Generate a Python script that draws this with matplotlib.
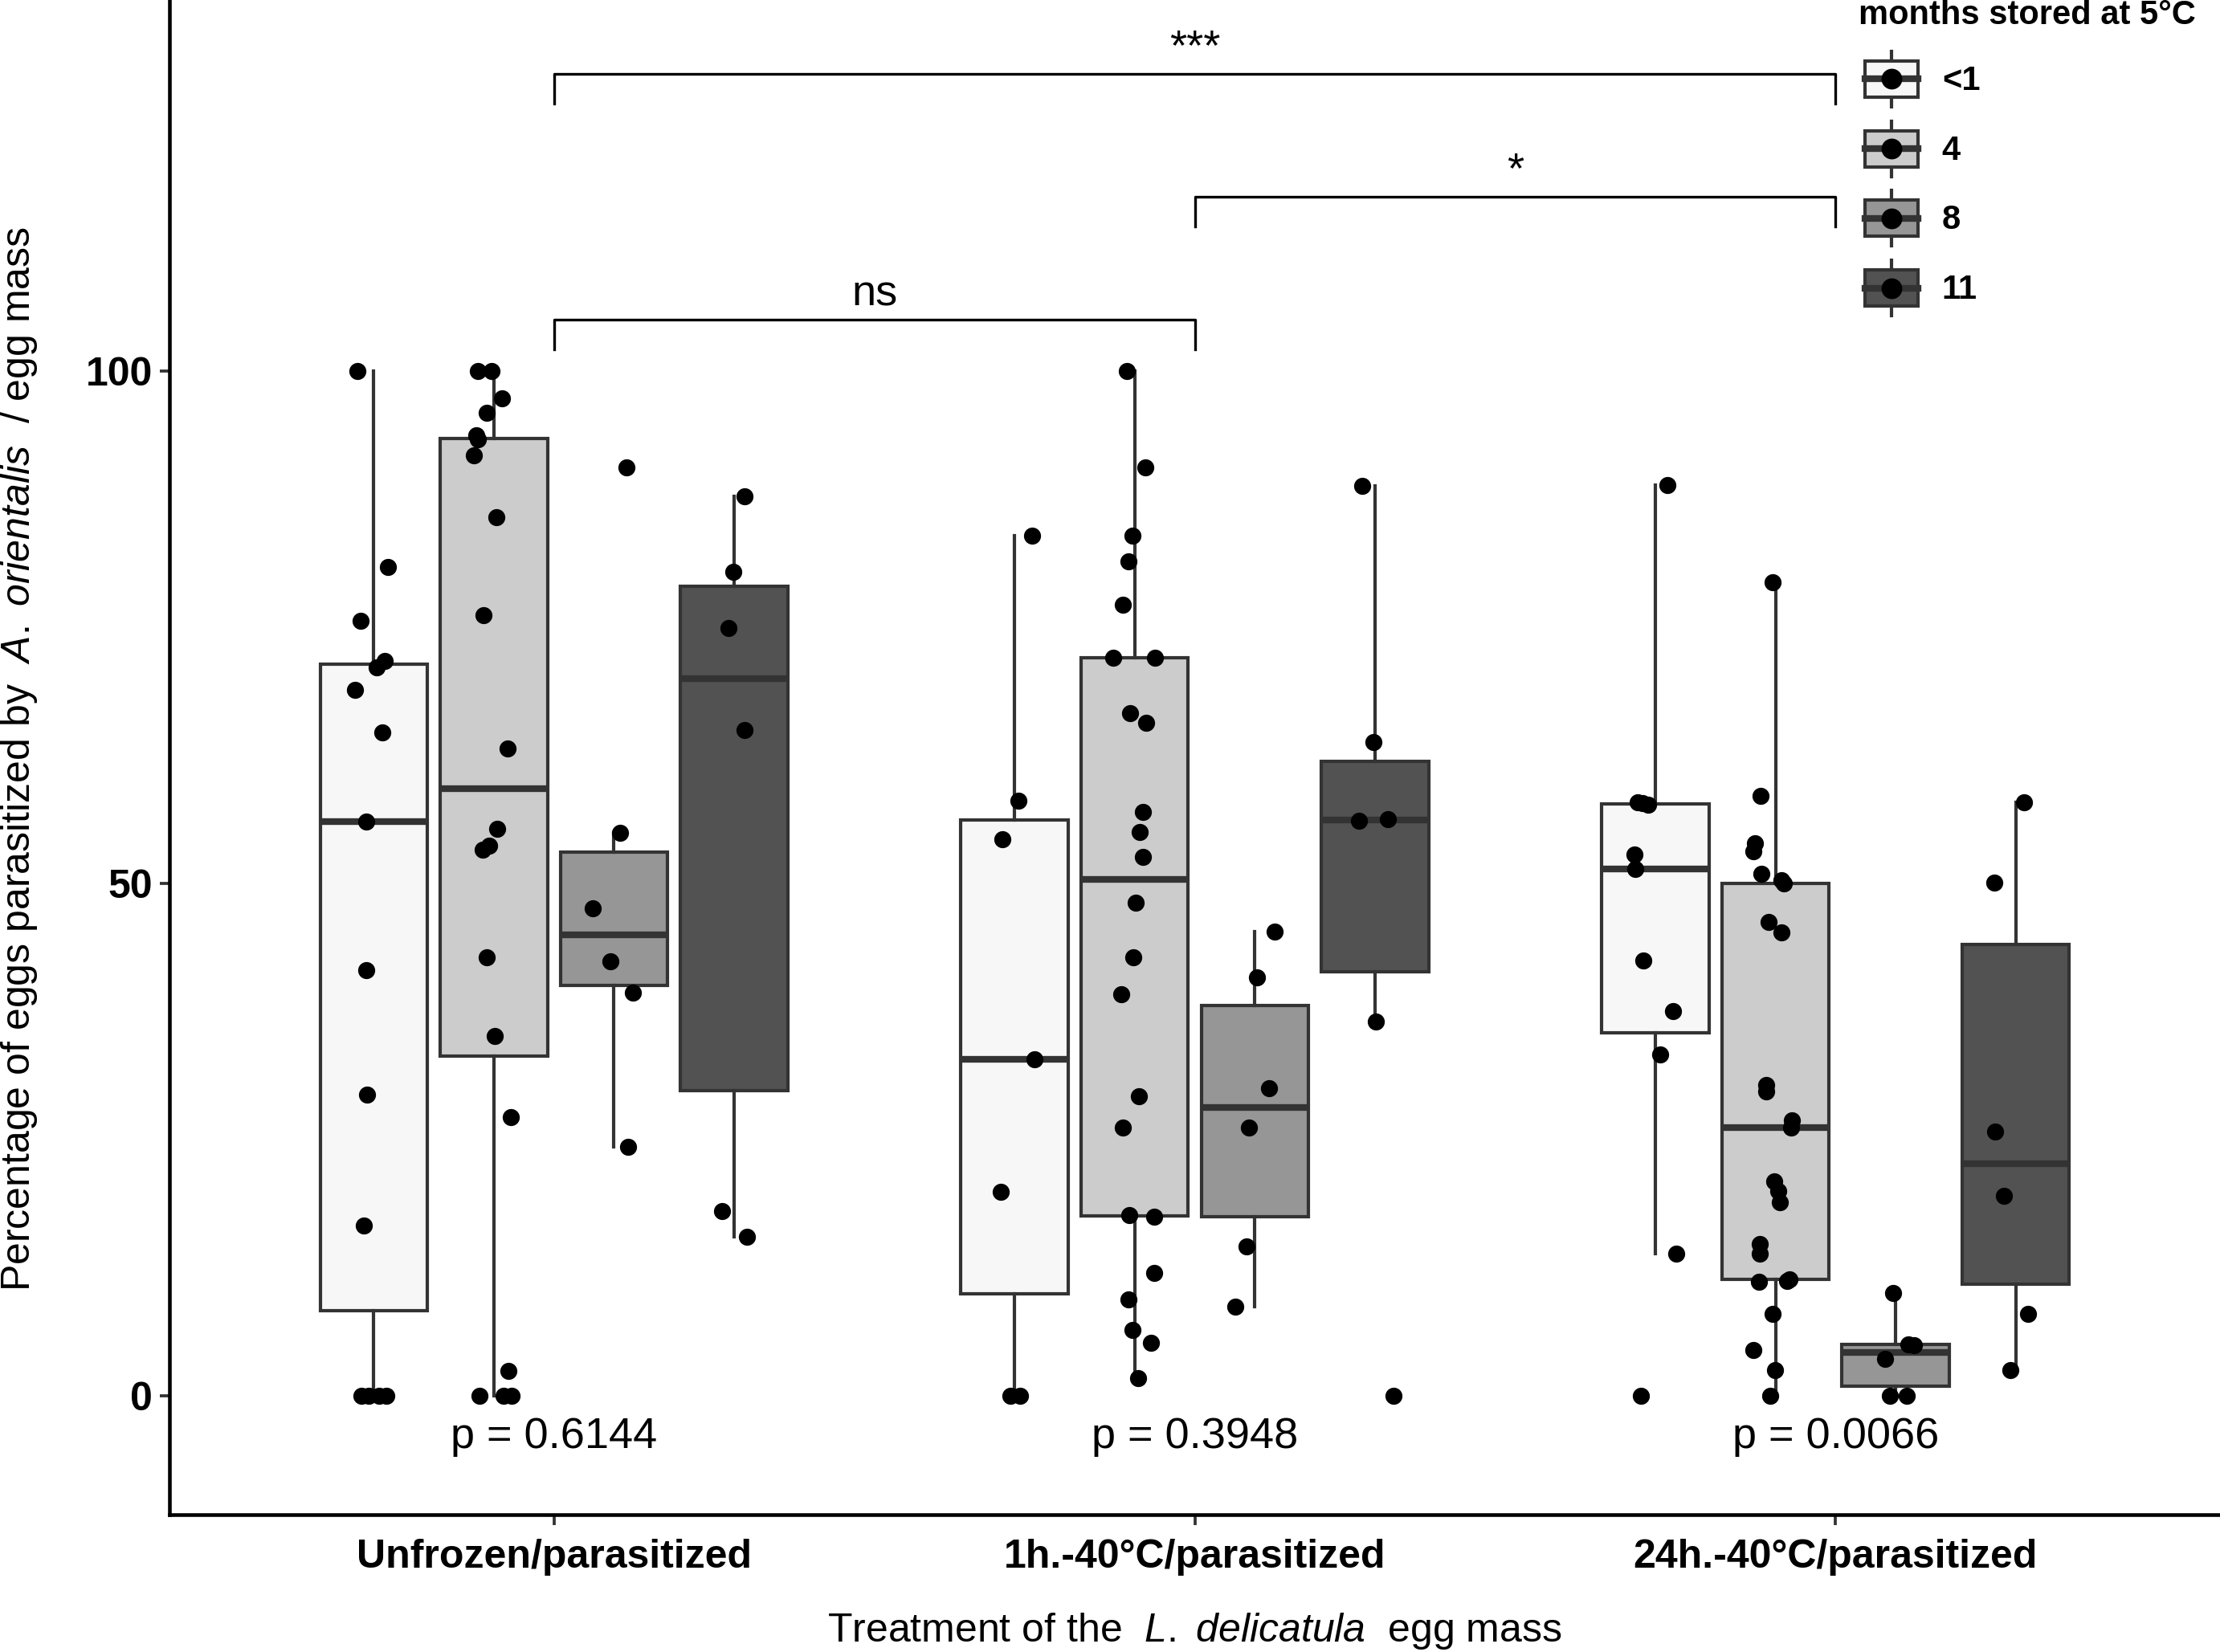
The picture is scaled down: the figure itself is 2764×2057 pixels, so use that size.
import numpy as np
import matplotlib
matplotlib.use('Agg')
import matplotlib.pyplot as plt
from matplotlib.legend_handler import HandlerBase
from matplotlib.patches import Rectangle, Patch
from matplotlib.lines import Line2D

plt.rcParams['font.family'] = ['Liberation Sans', 'DejaVu Sans']
plt.rcParams['mathtext.fontset'] = 'custom'
plt.rcParams['mathtext.rm'] = 'Liberation Sans'
plt.rcParams['mathtext.it'] = 'Liberation Sans:italic'

treatments = ['Unfrozen/parasitized', '1h.-40°C/parasitized', '24h.-40°C/parasitized']
months = ['<1', '4', '8', '11']
fills = ['#F7F7F7', '#CCCCCC', '#969696', '#525252']
p_values = [0.6144, 0.3948, 0.0066]

# % parasitized per egg mass
unfrozen_lt1 = [100, 80.9, 75.6, 71.7, 71.1, 68.9, 64.7, 56.0, 41.5, 29.4, 16.6, 0, 0, 0, 0]
unfrozen_4 = [100, 100, 97.3, 95.9, 93.7, 93.3, 91.8, 85.7, 76.2, 63.2, 55.3, 53.7, 53.3,
              42.8, 35.1, 27.2, 2.4, 0, 0, 0]
unfrozen_8 = [90.6, 54.9, 47.6, 42.4, 39.3, 24.3]
unfrozen_11 = [87.8, 80.4, 74.9, 65.0, 18.0, 15.5]

h1_lt1 = [83.9, 58.1, 54.3, 32.8, 19.9, 0, 0]
h1_4 = [100, 90.6, 83.9, 81.4, 77.2, 72.0, 72.0, 66.6, 65.7, 57.0, 55.0, 52.6, 48.1, 42.8,
        39.2, 29.2, 26.2, 17.6, 17.5, 12.0, 9.4, 6.4, 5.2, 1.7]
h1_8 = [45.3, 40.8, 30.0, 26.2, 14.6, 8.7]
h1_11 = [88.8, 63.8, 56.1, 56.3, 36.5, 0]

h24_lt1 = [88.9, 57.9, 57.8, 57.7, 52.8, 51.4, 42.5, 37.5, 33.3, 13.9, 0]
h24_4 = [79.4, 58.5, 53.9, 53.1, 50.9, 50.3, 50.0, 46.2, 45.2, 30.3, 29.7, 26.9, 26.2, 20.9,
         20.0, 18.9, 14.8, 13.9, 11.4, 11.2, 11.1, 8.0, 4.5, 2.5, 0]
h24_8 = [10.0, 5.0, 4.9, 3.6, 0, 0]
h24_11 = [57.9, 50.1, 25.8, 19.5, 8.0, 2.5]

# horizontal jitter of the points
jit_unfrozen_lt1 = [-0.026, 0.022, -0.020, 0.017, 0.005, -0.029, 0.013, -0.012, -0.012, -0.010,
                    -0.015, -0.019, -0.008, 0.009, 0.020]
jit_unfrozen_4 = [-0.025, -0.003, 0.013, -0.011, -0.028, -0.025, -0.031, 0.004, -0.016, 0.022,
                  0.005, -0.008, -0.018, -0.011, 0.002, 0.026, 0.023, -0.022, 0.015, 0.028]
jit_unfrozen_8 = [0.020, 0.009, -0.033, -0.005, 0.029, 0.022]
jit_unfrozen_11 = [0.016, -0.001, -0.009, 0.016, -0.019, 0.020]
jit_h1_lt1 = [0.028, 0.006, -0.019, 0.031, -0.022, -0.006, 0.009]
jit_h1_4 = [-0.012, 0.017, -0.004, -0.010, -0.018, -0.033, 0.032, -0.007, 0.018, 0.013, 0.008,
            0.013, 0.002, -0.002, -0.021, 0.007, -0.018, -0.008, 0.031, 0.031, -0.010, -0.003,
            0.026, 0.006]
jit_h1_8 = [0.031, 0.004, 0.022, -0.009, -0.013, -0.030]
jit_h1_11 = [-0.020, -0.002, -0.025, 0.020, 0.002, 0.029]
jit_h24_lt1 = [0.019, -0.028, -0.020, -0.011, -0.032, -0.031, -0.019, 0.028, 0.008, 0.033, -0.022]
jit_h24_4 = [-0.004, -0.023, -0.032, -0.034, -0.022, 0.009, 0.013, -0.011, 0.009, -0.014, -0.014,
             0.026, 0.025, -0.002, 0.004, 0.007, -0.024, -0.025, 0.022, 0.018, -0.026, -0.005,
             -0.034, -0.001, -0.008]
jit_h24_8 = [-0.004, 0.020, 0.029, -0.016, -0.009, 0.017]
jit_h24_11 = [0.013, -0.033, -0.032, -0.018, 0.019, -0.008]

groups = [[unfrozen_lt1, unfrozen_4, unfrozen_8, unfrozen_11],
          [h1_lt1, h1_4, h1_8, h1_11],
          [h24_lt1, h24_4, h24_8, h24_11]]
jitters = [[jit_unfrozen_lt1, jit_unfrozen_4, jit_unfrozen_8, jit_unfrozen_11],
           [jit_h1_lt1, jit_h1_4, jit_h1_8, jit_h1_11],
           [jit_h24_lt1, jit_h24_4, jit_h24_8, jit_h24_11]]

W, H = 2764, 2057
fig = plt.figure(figsize=(W / 300, H / 300), dpi=300)
ax = fig.add_axes([211 / W, 1 - 1886 / H, 1 - 211 / W, 1886 / H])

edge = '#333333'
dodge = [-0.28125, -0.09375, 0.09375, 0.28125]
for i, grp in enumerate(groups):
    for j, vals in enumerate(grp):
        pos = i + 1 + dodge[j]
        ax.boxplot(vals, positions=[pos], widths=0.167, patch_artist=True,
                   showfliers=False, showcaps=False, manage_ticks=False,
                   boxprops=dict(facecolor=fills[j], edgecolor=edge, linewidth=1.0),
                   whiskerprops=dict(color=edge, linewidth=1.0),
                   medianprops=dict(color=edge, linewidth=2.0, solid_capstyle='butt'))
        ax.scatter(pos + np.array(jitters[i][j]), vals, s=26, color='black',
                   linewidths=0, zorder=3)

# significance brackets
brackets = [(1, 2, 105.0, 'ns'), (2, 3, 117.0, '*'), (1, 3, 129.0, '***')]
for x1, x2, yb, lab in brackets:
    ax.plot([x1, x1, x2, x2], [yb - 2.9, yb, yb, yb - 2.9], color='black', lw=0.8)
    ax.text((x1 + x2) / 2, yb + 1.4, lab, ha='center', va='baseline', fontsize=13)

for i, p in enumerate(p_values):
    ax.text(i + 1, -5.1, 'p = %.4f' % p, ha='center', va='baseline', fontsize=13)

ax.set_xlim(0.4, 3.6)
ax.set_ylim(-11.6, 136.2)
ax.set_xticks([1, 2, 3])
ax.set_xticklabels(treatments, fontsize=12, fontweight='bold')
ax.set_yticks([0, 50, 100])
ax.set_yticklabels(['0', '50', '100'], fontsize=12, fontweight='bold')
ax.tick_params(axis='both', length=3, width=0.9, color=edge, pad=2)
ax.tick_params(axis='x', pad=4.2)
for s in ['top', 'right']:
    ax.spines[s].set_visible(False)
for s in ['left', 'bottom']:
    ax.spines[s].set_linewidth(1.1)
    ax.spines[s].set_color('black')

fig.text(1487 / W, 1 - 2031 / H, r'Treatment of the  $\mathit{L.\ delicatula}$  egg mass',
         ha='center', va='center', fontsize=12)
fig.text(24 / W, 1 - 945 / H,
         r'Percentage of eggs parasitized by  $\mathit{A.\ orientalis}$  / egg mass',
         ha='center', va='center', rotation=90, fontsize=12)


class BoxKey(HandlerBase):
    # key in points: box 15.8 x 10.8, whisker 16.6 tall
    def create_artists(self, legend, orig_handle, xdescent, ydescent, width, height,
                       fontsize, trans):
        fc = orig_handle.get_facecolor()
        cx = width / 2 - xdescent
        cy = height / 2 - ydescent
        bw, bh, wh = 15.8, 10.8, 16.6
        whisk = Line2D([cx, cx], [cy - wh / 2, cy + wh / 2], color=edge, lw=1.0)
        rect = Rectangle((cx - bw / 2, cy - bh / 2), bw, bh, facecolor=fc,
                         edgecolor=edge, lw=1.0)
        med = Line2D([cx - bw / 2, cx + bw / 2], [cy, cy], color=edge, lw=2.0)
        dot = Line2D([cx], [cy], marker='o', color='black', markersize=5.2, linestyle='none')
        arts = [whisk, rect, med, dot]
        for a in arts:
            a.set_transform(trans)
        return arts


handles = [Patch(facecolor=c) for c in fills]
ax.legend(handles, months, title='months stored at 5°C', loc='upper left',
          bbox_to_anchor=(2314 / W, 1 + 1 / H), bbox_transform=fig.transFigure, frameon=False,
          prop={'weight': 'bold', 'size': 10},
          title_fontproperties={'weight': 'bold', 'size': 10},
          handler_map={Patch: BoxKey()}, handlelength=1.97, handleheight=1.65,
          labelspacing=0.765, handletextpad=0.52, borderpad=0, borderaxespad=0,
          alignment='left')

fig.savefig('out.png', dpi=300)
